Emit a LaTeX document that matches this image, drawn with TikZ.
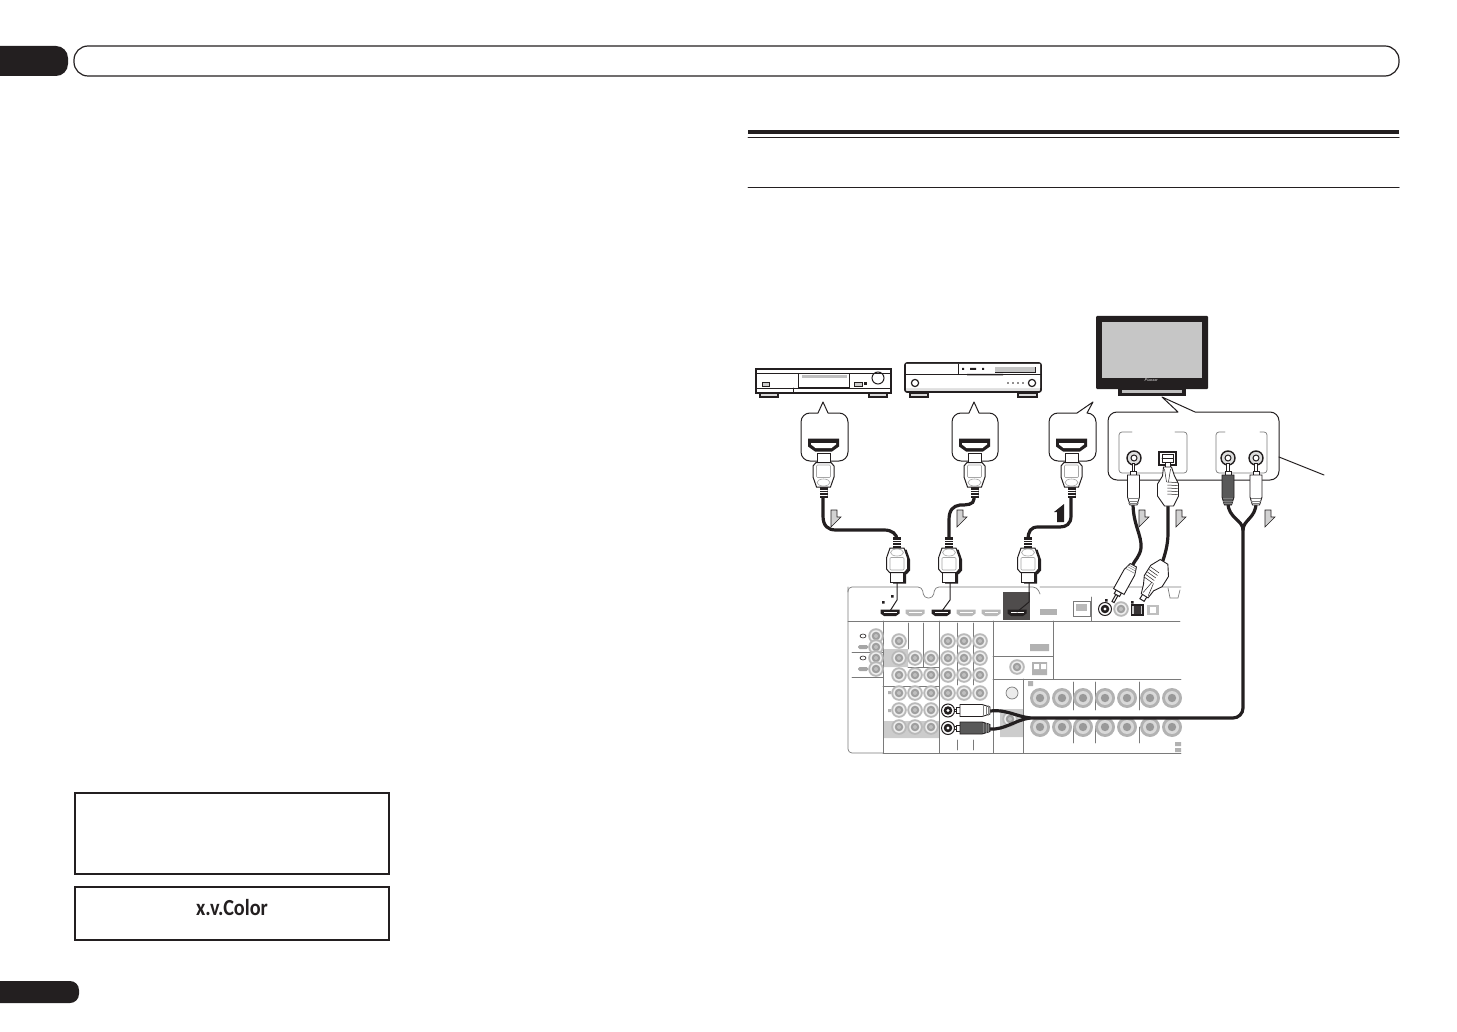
\documentclass[tikz,border=0pt]{standalone}
\usepackage{fontspec}
\newfontfamily\labelfont{Carlito}
\definecolor{inkblack}{HTML}{231F20}
\definecolor{paneledge}{HTML}{7A7A7A}
\tikzset{
  boxline/.style={draw=inkblack,line width=1.2pt},
  wire/.style={draw=inkblack,line width=3.2pt},
  thinwire/.style={draw=inkblack,line width=1pt},
  panelline/.style={draw=paneledge,line width=0.7pt},
  bubble/.style={draw=inkblack,fill=white,line width=1pt,line join=round},
  flowarrow/.style={draw=inkblack,fill=gray!35,line width=0.6pt},
  pics/hdmisocket/.style={code={
    \fill[inkblack] (-15.5,-6) -- (15.5,-6) -- (15.5,2) -- (8.5,7) -- (-8.5,7) -- (-15.5,2) -- cycle;
    \fill[white] (-12.5,-1.5) -- (12.5,-1.5) -- (12.5,0) -- (8,3.5) -- (-8,3.5) -- (-12.5,0) -- cycle;
  }},
  pics/hdmiport/.style={code={
    \fill[#1] (-9.5,-3) -- (9.5,-3) -- (9.5,1) -- (6,3.5) -- (-6,3.5) -- (-9.5,1) -- cycle;
    \fill[white] (-6.5,-1) rectangle (6.5,0.6);
  }},
  pics/hdmishadow/.style={code={
    \fill[inkblack] (-6.5,0) -- (6.5,0) -- (6.5,9.5) -- (7.5,9.5) -- (10.5,13) -- (10.5,24) -- (7,34) -- (-7,34) -- (-10.5,24) -- (-10.5,13) -- (-7.5,9.5) -- (-6.5,9.5) -- cycle;
  }},
  pics/hdmiplug/.style={code={
    \fill[inkblack] (-4,34) rectangle (4,45);
    \foreach \stripe in {37,39.5,42} {\draw[white,line width=0.4pt] (-4,\stripe) -- (4,\stripe);}
    \draw[boxline,fill=white,line width=1pt] (-6.5,0) rectangle (6.5,10);
    \draw[boxline,fill=white,line width=1pt] (-7.5,9.5) -- (7.5,9.5) -- (10.5,13) -- (10.5,24) -- (7,34) -- (-7,34) -- (-10.5,24) -- (-10.5,13) -- cycle;
    \draw[draw=gray!70,line width=0.6pt,rounded corners=1pt] (-7,12) rectangle (7,24.5);
    \draw[draw=gray!70,line width=0.6pt] (0,29.5) ellipse (6.5 and 3.5);
  }},
  pics/rcaplug/.style={code={
    \draw[thinwire,fill=white] (-1.2,0) rectangle (1.2,8);
    \draw[thinwire,fill=white] (-3,8) rectangle (3,12);
    \draw[boxline,fill=#1,line width=0.9pt] (-6,12) -- (6,12) -- (6,34) -- (3.5,42) -- (-3.5,42) -- (-6,34) -- cycle;
    \foreach \stripe in {35.5,38,40} {\draw[gray,line width=0.5pt] (-4.8,\stripe) -- (4.8,\stripe);}
  }},
  pics/opticalplug/.style={code={
    \draw[thinwire,fill=white] (-2.5,0) rectangle (2.5,6);
    \draw[boxline,fill=white,line width=0.9pt] (-4,5) -- (4,5) -- (7,14) -- (11,22) -- (11,34) -- (6,44) -- (-3,44) -- (-10,34) -- (-10,22) -- (-5,14) -- cycle;
    \foreach \stripe in {20,23,26,29,32} {\draw[inkblack,line width=0.5pt] (0,\stripe) -- (10,\stripe+0.6);}
    \draw[inkblack,line width=0.5pt] (-3,7) -- (-1,20) (3,7) -- (1,20);
  }},
  pics/jackring/.style={code={
    \fill[gray!55] (0,0) circle (7.8);
    \fill[gray!12] (0,0) circle (5.8);
    \fill[gray!75] (0,0) circle (4.3);
    \fill[gray!50] (0,0) circle (2);
  }},
  pics/terminalring/.style={code={
    \fill[gray!60] (0,0) circle (10);
    \fill[gray!30] (0,0) circle (7);
    \fill[gray!80] (0,0) circle (4.2);
  }},
  pics/blackjack/.style={code={
    \draw[inkblack,line width=1pt,fill=white] (0,0) circle (6.5);
    \fill[inkblack] (0,0) circle (4.3);
    \fill[white] (0,0) circle (1.6);
  }},
  pics/tvjack/.style={code={
    \draw[inkblack,line width=1.4pt,fill=gray!25] (0,0) circle (7);
    \draw[inkblack,line width=1pt,fill=white] (0,0) circle (3);
  }},
}
\begin{document}
\begin{tikzpicture}[x=1pt,y=-1pt,line cap=round]
\useasboundingbox (0,0) rectangle (1457,1032);
\fill[inkblack,rounded corners=12pt] (-20,46) rectangle (68,76);
\draw[boxline,rounded corners=14pt] (74,46) rectangle (1399,76);
\fill[inkblack,rounded corners=9pt] (-20,981) rectangle (79,1003);
\draw[inkblack,line width=2pt] (75,793) rectangle (389,874);
\draw[inkblack,line width=1.6pt] (75,887) rectangle (389,940);
\node[text=inkblack] (xvcolor) at (232,908) {\scalebox{.88}[1]{\labelfont\bfseries\fontsize{23}{23}\selectfont x.v.Color}};
\fill[inkblack] (748,130) rectangle (1399,134);
\draw[inkblack,line width=1pt] (748,137.5) -- (1399,137.5);
\draw[inkblack,line width=1pt] (748,187.5) -- (1399,187.5);
\draw[boxline,line width=1.6pt] (756,369) rectangle (891,393);
\draw[boxline,line width=0.8pt] (756,373) -- (798,373) (849,373) -- (891,373) (756,388) -- (891,388) (793,388) -- (793,393);
\draw[boxline,line width=0.8pt] (798,373) rectangle (849,387);
\fill[gray!50] (802,375) rectangle (847,378);
\draw[boxline,line width=0.7pt,fill=gray!40] (762,382) rectangle (769,386);
\draw[boxline,line width=0.7pt,fill=gray!40] (854,382) rectangle (862,386);
\fill[inkblack] (864,381.5) rectangle (866.5,385);
\draw[boxline,line width=1pt] (878,378) circle (6);
\draw[boxline,fill=gray!30] (760,393) rectangle (778,397);
\draw[boxline,fill=gray!30] (869,393) rectangle (887,397);
\draw[boxline,line width=1.6pt,rounded corners=2pt,fill=gray!25] (905,363) rectangle (1041,392);
\fill[white] (906,364) rectangle (1040,374) (906,375) rectangle (1040,388);
\draw[boxline,line width=0.8pt] (905,374) -- (1041,374) (958,364) -- (958,374);
\draw[inkblack,line width=0.6pt] (995,367) rectangle (1035,372);
\fill[gray!45] (995,367) rectangle (1035,372);
\fill[inkblack] (962,368) rectangle (964,370) (982,368) rectangle (984,370) (970,368) rectangle (976,370) (967,374) rectangle (1003,375.5);
\draw[boxline] (915,383) circle (3.6);
\draw[boxline] (1032,383) circle (3.6);
\foreach \dotx in {1008,1013,1018,1023} {\fill[inkblack] (\dotx,383) circle (0.8);}
\draw[boxline,fill=gray!30] (910,393) rectangle (928,397);
\draw[boxline,fill=gray!30] (1018,393) rectangle (1037,397);
\fill[inkblack,rounded corners=1pt] (1096,316) rectangle (1208,389);
\fill[gray!45] (1102,322) rectangle (1202,378);
\node[text=white,inner sep=0pt] (tvbrand) at (1151,380.5) {\sffamily\itshape\fontsize{4}{4}\selectfont Pioneer};
\fill[inkblack] (1118,389) rectangle (1186,396);
\fill[gray!50] (1122,390) rectangle (1182,392.5);
\draw[bubble] (812,413) -- (818,413) -- (823,402) -- (828,413) -- (836,413) [rounded corners=9pt] -- (848,413) -- (848,461) -- (801,461) -- (801,413) -- (812,413);
\draw[bubble] (963,413) -- (969,413) -- (974,402) -- (979,413) -- (986,413) [rounded corners=9pt] -- (998,413) -- (998,461) -- (952,461) -- (952,413) -- (963,413);
\draw[bubble] (1065,413) -- (1077,413) -- (1093,402) -- (1087,413) [rounded corners=9pt] -- (1096,413) -- (1096,461) -- (1049,461) -- (1049,413) -- (1065,413);
\draw[bubble] (1140,412) -- (1178,412) -- (1162,397) -- (1195,412) -- (1240,412) [rounded corners=9pt] -- (1279,412) -- (1279,480) -- (1108,480) -- (1108,412) -- (1140,412);
\draw[thinwire] (1279,457) -- (1324,475);
\draw[panelline,rounded corners=3pt] (1132,432) -- (1119,432) -- (1119,473) -- (1187,473) -- (1187,432) -- (1175,432);
\draw[panelline,rounded corners=3pt] (1225,432) -- (1216,432) -- (1216,473) -- (1267,473) -- (1267,432) -- (1260,432);
\pic at (823.5,444.5) {hdmisocket};
\pic at (974.5,444.5) {hdmisocket};
\pic at (1071.5,444.5) {hdmisocket};
\pic at (1134,458) {tvjack};
\pic at (1228,458) {tvjack};
\pic at (1256,458) {tvjack};
\draw[inkblack,line width=1.6pt,fill=white] (1159,452) rectangle (1176,465);
\draw[inkblack,line width=0.6pt] (1162,454) rectangle (1173,462) (1162,458) -- (1173,458);
\draw[panelline] (848,592) [rounded corners=4pt] -- (848,587) -- (922,587) -- (924,598) -- (933,598) -- (935,587) -- (1037,587) -- (1040,594) (1040,587) -- (1181,587);
\draw[panelline] (1168,588) -- (1170,598) -- (1178,598) -- (1180,590);
\draw[panelline,rounded corners=4pt] (848,587) -- (848,753) -- (883,753);
\fill[gray!40] (883,649) rectangle (908,667) (883,721) rectangle (939,738) (1000,709) rectangle (1023,737);
\fill[inkblack!80] (1003,592) rectangle (1030,620);
\draw[panelline] (848,621) -- (1180,621) (883,621) -- (883,753) (939,621) -- (939,753) (993,621) -- (993,753) (883,753) -- (1181,753);
\draw[panelline] (852,652) -- (883,652) (852,677) -- (883,677) (908,623) -- (908,649) (923,623) -- (923,667) (908,667) -- (939,667) (883,686) -- (939,686);
\draw[panelline] (957,623) -- (957,685) (973,623) -- (973,685) (957,740) -- (957,750) (973,740) -- (973,750) (1053,621) -- (1053,679) (993,656) -- (1053,656) (993,679) -- (1181,679) (1023,679) -- (1023,753) (1091,597) -- (1091,621);
\draw[panelline] (1073,682) -- (1073,710) (1095,682) -- (1095,710) (1139,682) -- (1139,710) (1073,727) -- (1073,743) (1095,727) -- (1095,743) (1139,727) -- (1139,743);
\pic at (890,612.5) {hdmiport=inkblack};
\pic at (915,612.5) {hdmiport=gray!55};
\pic at (941,612.5) {hdmiport=inkblack};
\pic at (966,612.5) {hdmiport=gray!55};
\pic at (991,612.5) {hdmiport=gray!55};
\pic at (1017,612.5) {hdmiport=inkblack};
\fill[gray!60] (1040,609) rectangle (1057,615);
\draw[panelline,fill=white] (1073,601) rectangle (1090,616);
\fill[gray!55] (1076,604) rectangle (1087,611);
\pic at (1105,609) {blackjack};
\pic at (1121,609) {jackring};
\draw[inkblack,line width=1.2pt,fill=gray!40] (1131.5,605) rectangle (1143,615);
\fill[inkblack!90] (1134,606) rectangle (1141,614);
\fill[gray!50] (1147,605) rectangle (1159,615);
\fill[white] (1150,607) rectangle (1156,613);
\foreach \jackx/\jacky in {876/636,876/647,876/658,876/669,899/641,899/658,915/658,931/658,899/675,915/675,931/675,899/693,915/693,931/693,899/710,915/710,931/710,899/727,915/727,931/727,948/641,964/641,980/641,948/658,964/658,980/658,948/675,964/675,980/675,948/693,964/693,980/693,1010/719,1017/667} {\pic at (\jackx,\jacky) {jackring};}
\foreach \termx in {1040,1062,1083,1105,1127,1150,1172} {\pic at (\termx,698) {terminalring}; \pic at (\termx,727) {terminalring};}
\draw[panelline,fill=gray!15] (1012,693) circle (6);
\fill[gray!60] (1030,644) rectangle (1049,651) (1032,662) rectangle (1047,675) (1028,681) rectangle (1033,686) (1175,742) rectangle (1181,746) (1175,748) rectangle (1181,752);
\fill[white] (1034,664) rectangle (1039,669) (1041,664) rectangle (1046,669);
\fill[inkblack] (891,595) rectangle (893.5,597.5) (882,601) rectangle (884.5,603.5) (1105,599) rectangle (1107.5,601.5) (1131,601) rectangle (1133.5,603.5);
\fill[gray!60] (888,691) rectangle (891,694) (888,709) rectangle (891,712);
\draw[inkblack,fill=white,line width=0.6pt] (863,636) ellipse (3 and 2) (863,658) ellipse (3 and 2);
\fill[gray!70,rounded corners=1.5pt] (858,645) rectangle (868,649) (858,667) rectangle (868,671);
\draw[thinwire] (897,580) -- (897,600) -- (890,611) (950,580) -- (950,600) -- (942,611) (1029,580) -- (1029,602) -- (1017,612);
\draw[wire] (823,495) -- (823,516) .. controls (823,526) and (828,530) .. (836,530) -- (884,530) .. controls (892,530) and (897,534) .. (897,540);
\draw[wire] (974,495) -- (974,499) .. controls (974,505) and (966,505) .. (960,505) .. controls (953,506) and (949,510) .. (949,520) -- (949,540);
\draw[wire] (1071,495) -- (1071,516) .. controls (1071,524) and (1066,527) .. (1060,527) -- (1038,527) .. controls (1031,527) and (1028,531) .. (1028,540);
\draw[wire] (1133,503) .. controls (1133,525) and (1142,535) .. (1141,548) .. controls (1140,556) and (1135,560) .. (1132,566);
\draw[wire] (1168,505) -- (1168,533) .. controls (1168,545) and (1165,555) .. (1161,566);
\draw[wire,rounded corners=10pt] (1027,718) -- (1243,718) -- (1243,528);
\draw[wire] (1243,530) .. controls (1243,520) and (1228,518) .. (1228,503) (1243,530) .. controls (1243,520) and (1256,518) .. (1256,503);
\draw[wire] (990,711) .. controls (1005,709) and (1015,716) .. (1030,718) (990,729) .. controls (1005,730) and (1015,720) .. (1030,718);
\pic at (823.5,453) {hdmiplug};
\pic at (974.5,453) {hdmiplug};
\pic at (1071.5,453) {hdmiplug};
\pic[yscale=-1] at (899.5,583.5) {hdmishadow};
\pic[yscale=-1] at (951.5,583.5) {hdmishadow};
\pic[yscale=-1] at (1030.5,583.5) {hdmishadow};
\pic[yscale=-1] at (897,582) {hdmiplug};
\pic[yscale=-1] at (949,582) {hdmiplug};
\pic[yscale=-1] at (1028,582) {hdmiplug};
\pic at (1133.5,463) {rcaplug=white};
\pic at (1228,463) {rcaplug=gray!70!black};
\pic at (1256,463) {rcaplug=white};
\pic at (1167.5,462) {opticalplug};
\pic[rotate=151] at (1113,602) {rcaplug=white};
\pic[rotate=148] at (1142,600) {opticalplug};
\pic[rotate=90] at (948,710.5) {rcaplug=white};
\pic[rotate=90] at (948,728) {rcaplug=gray!70!black};
\pic at (948,710.5) {blackjack};
\pic at (948,728) {blackjack};
\draw[flowarrow] (831,510) -- (837,510) -- (837,517) -- (841,517) -- (831,527) -- cycle;
\draw[flowarrow] (957,510) -- (963,510) -- (963,517) -- (967,517) -- (957,527) -- cycle;
\draw[flowarrow] (1139,510) -- (1145,510) -- (1145,517) -- (1149,517) -- (1139,527) -- cycle;
\draw[flowarrow] (1176,510) -- (1182,510) -- (1182,517) -- (1186,517) -- (1176,527) -- cycle;
\draw[flowarrow] (1265,510) -- (1271,510) -- (1271,517) -- (1275,517) -- (1265,527) -- cycle;
\fill[inkblack] (1064,504) -- (1054,512) -- (1057,512) -- (1057,522) -- (1064,522) -- cycle;
\end{tikzpicture}
\end{document}
